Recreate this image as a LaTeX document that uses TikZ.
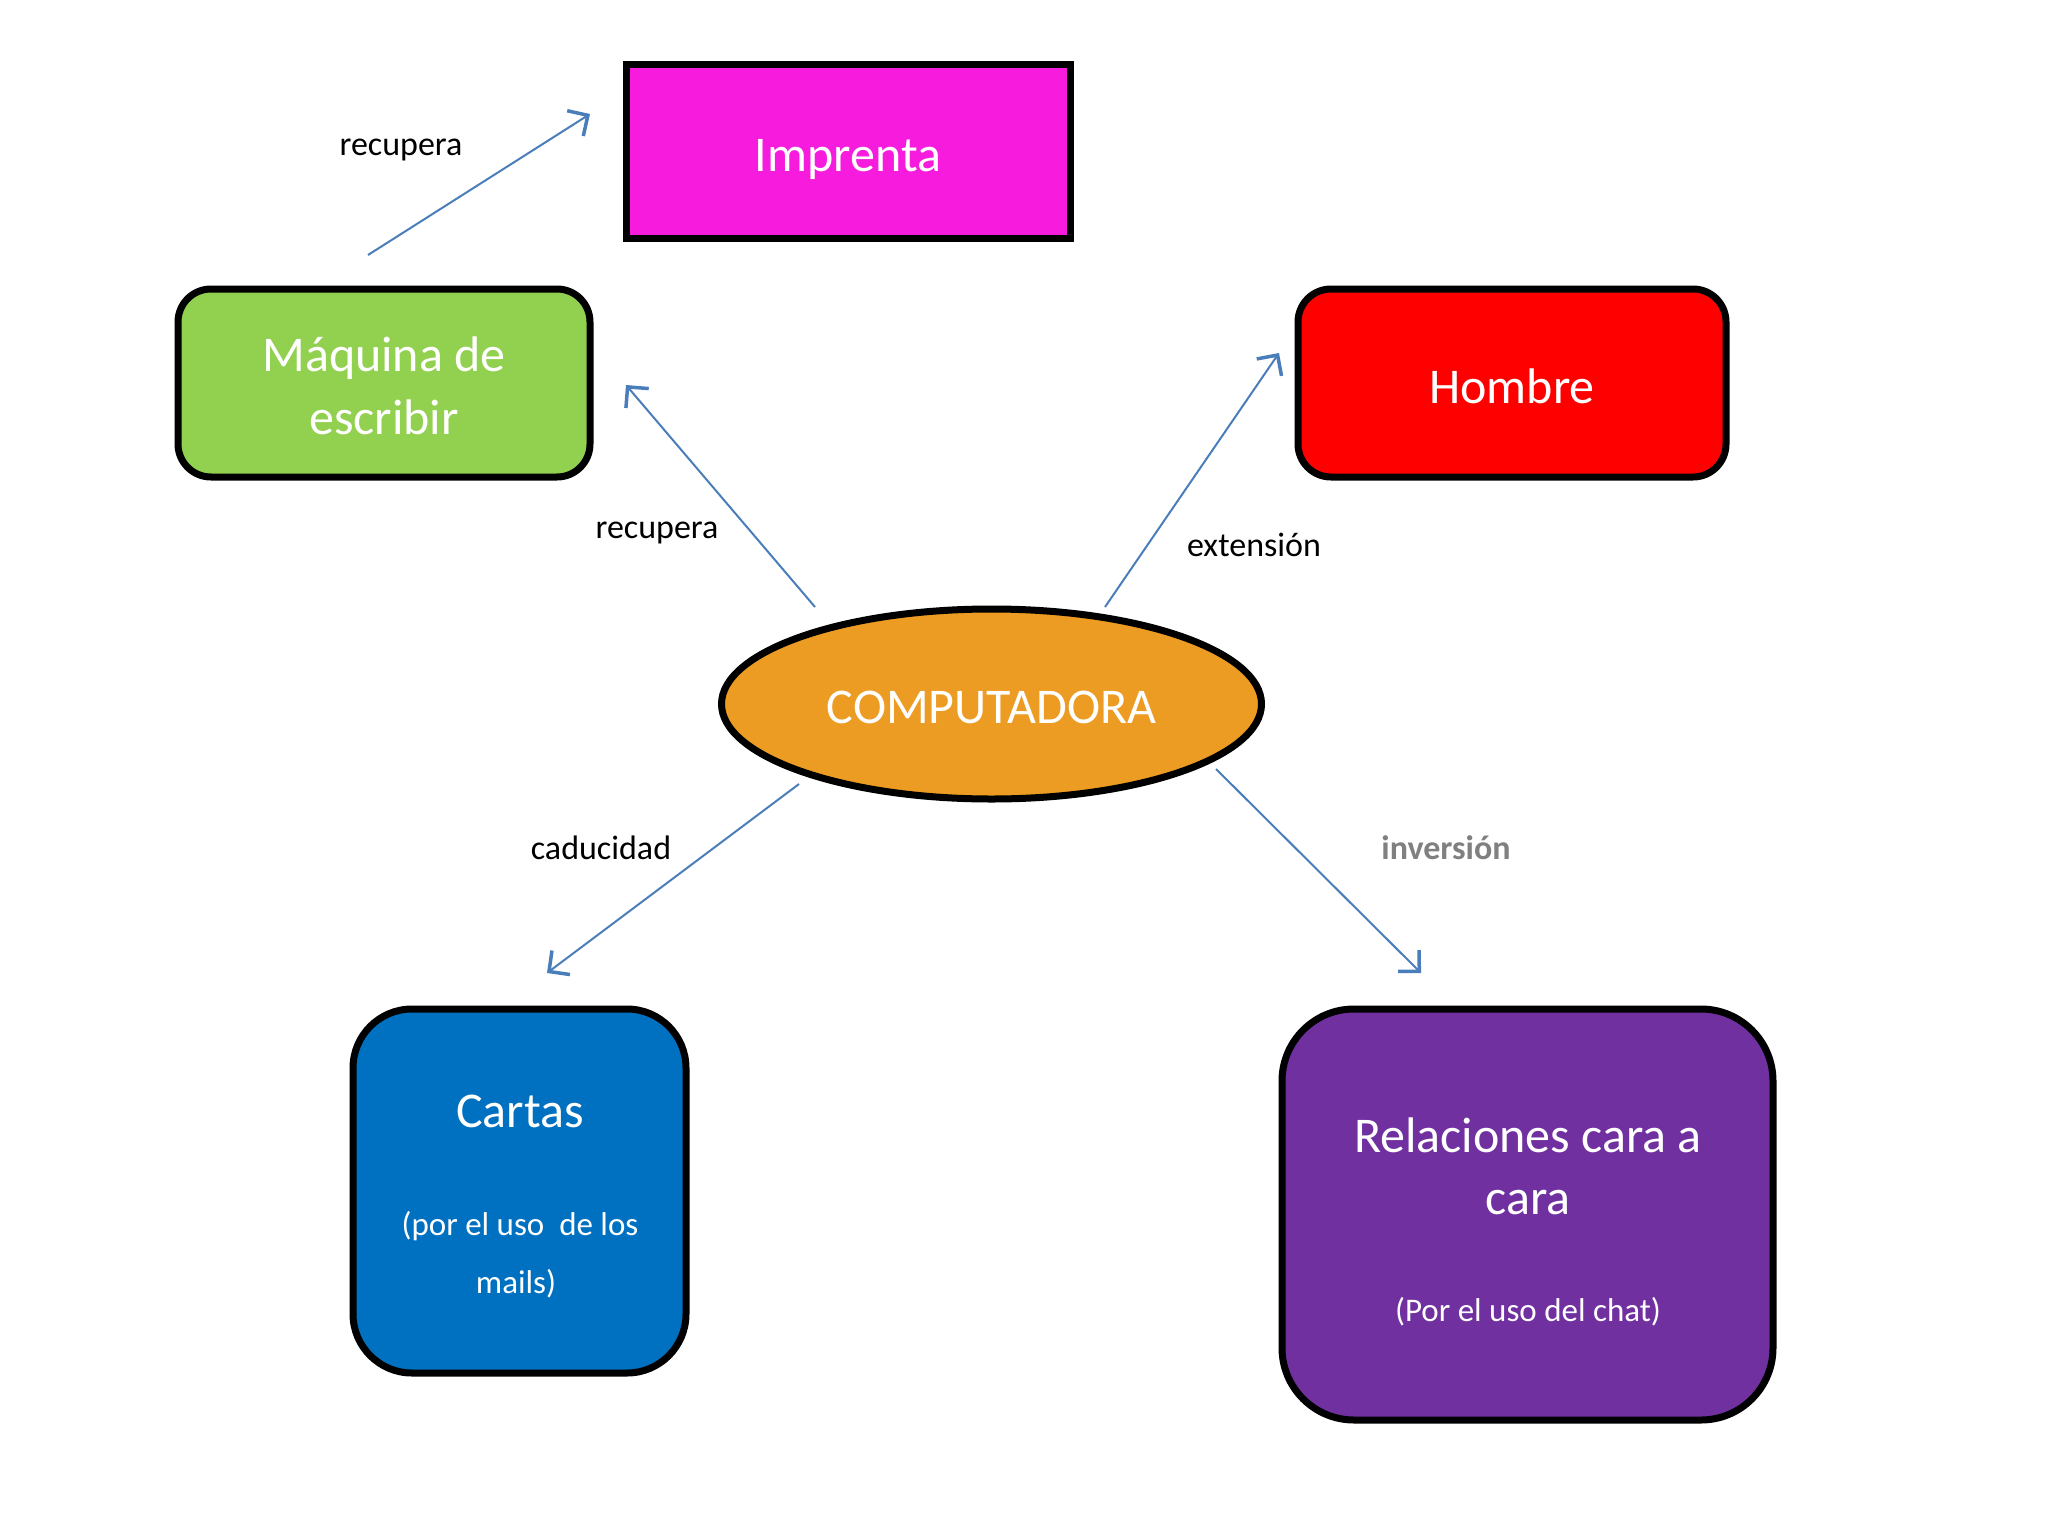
\documentclass[tikz,border=0pt]{standalone}
\usepackage{fontspec}
\setmainfont{Carlito}
\usetikzlibrary{arrows.meta,shapes.geometric}
\definecolor{cMag}{HTML}{F71BDE}
\definecolor{cGreen}{HTML}{92D050}
\definecolor{cRed}{HTML}{FF0000}
\definecolor{cOrange}{HTML}{EC9B23}
\definecolor{cBlue}{HTML}{0070C0}
\definecolor{cPurple}{HTML}{7030A0}
\definecolor{cArrow}{HTML}{4A7EBB}
\definecolor{cGray}{HTML}{808080}
\newcommand{\lowertxt}[2]{\raisebox{-#1}[\height][\depth]{#2}}
\tikzset{
  conbox/.style={draw=black, line width=7pt, text=white, inner sep=0pt, align=center,
    font=\fontsize{50}{63}\selectfont},
  roundbox/.style={conbox, rounded corners=#1},
  subtext/.style={text=white, inner sep=0pt, anchor=base, font=\fontsize{33}{40}\selectfont},
  maintext/.style={text=white, inner sep=0pt, anchor=base, font=\fontsize{50}{63}\selectfont},
  lbl/.style={inner sep=0pt, font=\fontsize{34}{40}\selectfont},
  arr/.style={draw=cArrow, line width=2pt,
    -{Straight Barb[length=15pt,width=30pt,line width=3.5pt]}}
}
\begin{document}
\begin{tikzpicture}[x=1pt,y=-1pt]
\useasboundingbox[fill=white] (0,0) rectangle (2048,1536);

% boxes
\node[conbox, fill=cMag, minimum width=444pt, minimum height=174pt] (imp) at (848,151.5) {\lowertxt{8pt}{Imprenta}};
\node[roundbox=33pt, fill=cGreen, minimum width=412pt, minimum height=188pt] (maq) at (384,383) {\lowertxt{3pt}{Máquina de}\\\lowertxt{3pt}{escribir}};
\node[roundbox=33pt, fill=cRed, minimum width=428pt, minimum height=188pt] (hom) at (1512,383) {\lowertxt{3pt}{Hombre}};
\node[conbox, ellipse, fill=cOrange, minimum width=540pt, minimum height=190pt] (comp) at (991.5,704) {\lowertxt{3pt}{COMPUTADORA}};
\node[roundbox=59pt, fill=cBlue, minimum width=333pt, minimum height=364pt] (car) at (519.5,1191) {};
\node[roundbox=72pt, fill=cPurple, minimum width=491pt, minimum height=411pt] (rel) at (1527.5,1214.5) {};

% texts inside bottom boxes
\node[maintext] (carT) at (520,1127) {Cartas};
\node[subtext] (carS1) at (520,1235) {(por el uso\ \ de los};
\node[subtext] (carS2) at (516,1293) {mails)};
\node[maintext] (relT1) at (1528,1152) {Relaciones cara a};
\node[maintext] (relT2) at (1528,1214) {cara};
\node[subtext] (relS) at (1528,1321) {(Por el uso del chat)};

% arrow end points
\coordinate (a1s) at (368,255);  \coordinate (a1e) at (590,114);
\coordinate (a2s) at (815,607);  \coordinate (a2e) at (626,385);
\coordinate (a3s) at (1105,607); \coordinate (a3e) at (1279,353);
\coordinate (a4s) at (799,784);  \coordinate (a4e) at (547,973);
\coordinate (a5s) at (1216,769); \coordinate (a5e) at (1421,973);

\draw[arr] (a1s) -- (a1e);
\draw[arr] (a2s) -- (a2e);
\draw[arr] (a3s) -- (a3e);
\draw[arr] (a4s) -- (a4e);
\draw[arr] (a5s) -- (a5e);

% labels
\node[lbl] (l1) at (401,150) {recupera};
\node[lbl] (l2) at (657,533) {recupera};
\node[lbl] (l3) at (1254,545) {extensión};
\node[lbl] (l4) at (601,848) {caducidad};
\node[lbl, text=cGray, font=\fontsize{34}{40}\selectfont\bfseries] (l5) at (1446,848) {inversión};
\end{tikzpicture}
\end{document}
